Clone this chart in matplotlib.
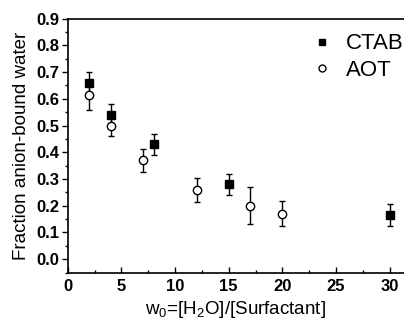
import matplotlib
matplotlib.use('Agg')
import matplotlib.pyplot as plt
from matplotlib.lines import Line2D
from matplotlib.ticker import MultipleLocator

plt.rcParams['font.family'] = ['Liberation Sans', 'DejaVu Sans']

# данные
ctab_w0 = [2, 4, 8, 15, 30]
ctab_frac = [0.66, 0.54, 0.43, 0.28, 0.165]
ctab_err = [0.04, 0.04, 0.04, 0.04, 0.04]

aot_w0 = [2, 4, 7, 12, 17, 20]
aot_frac = [0.613, 0.50, 0.37, 0.258, 0.20, 0.17]
aot_err = [0.055, 0.04, 0.042, 0.045, 0.07, 0.047]

fig = plt.figure(figsize=(4.04, 3.25), dpi=100)
ax = fig.add_axes([0.168, 0.1615, 0.832, 0.781])

ax.errorbar(ctab_w0, ctab_frac, yerr=ctab_err, fmt='s', color='black',
            ms=6, capsize=2.5, elinewidth=1, capthick=1)
ax.errorbar(aot_w0, aot_frac, yerr=aot_err, fmt='o', color='black',
            mfc='white', mec='black', ms=6, mew=1, capsize=2.5,
            elinewidth=1, capthick=1)

ax.set_xlim(0, 31.35)
ax.set_ylim(-0.05, 0.9)
ax.xaxis.set_major_locator(MultipleLocator(5))
ax.xaxis.set_minor_locator(MultipleLocator(2.5))
ax.yaxis.set_minor_locator(MultipleLocator(0.05))
ax.set_yticks([i / 10 for i in range(10)])
ax.set_yticklabels(['%.1f' % (i / 10) for i in range(10)])

ax.tick_params(axis='y', which='major', direction='out', length=4, width=1,
               labelsize=12, pad=2)
ax.tick_params(axis='y', which='minor', direction='out', length=2, width=1)
ax.tick_params(axis='x', which='major', direction='in', length=4, width=1,
               labelsize=12, pad=5)
ax.tick_params(axis='x', which='minor', direction='in', length=2, width=1)
for lab in ax.get_xticklabels() + ax.get_yticklabels():
    lab.set_fontweight('bold')

ax.spines['right'].set_visible(False)
for s in ['left', 'top', 'bottom']:
    ax.spines[s].set_linewidth(1.2)

ax.set_ylabel('Fraction anion-bound water', fontsize=13.5, labelpad=5)
ax.set_xlabel('w$_\\mathregular{0}$=[H$_\\mathregular{2}$O]/[Surfactant]',
              fontsize=13.5, labelpad=3)

# легенда с маленькими маркерами, без планок погрешностей
handles = [Line2D([], [], ls='none', marker='s', color='black', ms=5),
           Line2D([], [], ls='none', marker='o', mfc='white', mec='black',
                  ms=5, mew=1)]
ax.legend(handles, ['CTAB', 'AOT'], loc='upper right', frameon=False,
          fontsize=16, handletextpad=0.5, borderaxespad=0.2,
          labelspacing=0.25, handlelength=1.2, bbox_to_anchor=(1.04, 0.995))

fig.savefig('out.png', dpi=100)
